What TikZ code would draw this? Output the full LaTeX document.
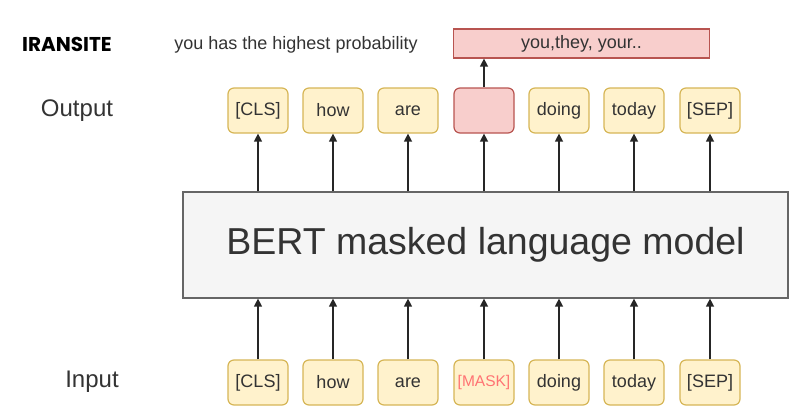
\documentclass[tikz,border=0pt]{standalone}
\usepackage{fontspec}
\setmainfont{Liberation Sans}
\newfontfamily\brandfont{Poppins}
\usetikzlibrary{arrows.meta}
\definecolor{tokfill}{HTML}{FFF2CC}
\definecolor{tokdraw}{HTML}{D6B656}
\definecolor{pinkfill}{HTML}{F8CECC}
\definecolor{pinkdraw}{HTML}{B85450}
\definecolor{bertfill}{HTML}{F5F5F5}
\definecolor{bertdraw}{HTML}{666666}
\definecolor{txt}{HTML}{333333}
\definecolor{masktxt}{HTML}{FF7373}
\begin{document}
\begin{tikzpicture}[x=1pt,y=-1pt,
  tok/.style={draw=tokdraw, fill=tokfill, rounded corners=6pt, minimum width=60pt, minimum height=45pt, line width=1.2pt, text=txt, font=\fontsize{18}{20}\selectfont, inner sep=0pt},
  pinktok/.style={tok, draw=pinkdraw, fill=pinkfill},
  arr/.style={line width=1.3pt, draw=black!85, -{Triangle[width=8pt,length=8pt]}},
  lbl/.style={text=txt, font=\fontsize{24}{26}\selectfont, inner sep=0pt}
]
\useasboundingbox (0,0) rectangle (793,410);
% top line
\node[font=\brandfont\bfseries\fontsize{20}{22}\selectfont, text=black, inner sep=0pt] (brand) at (67,44) {IRANSITE};
\node[text=txt, font=\fontsize{18}{20}\selectfont, inner sep=0pt] (note) at (296,45) {you has the highest probability};
\node[draw=pinkdraw, fill=pinkfill, line width=1.2pt, minimum width=256pt, minimum height=29pt, inner sep=0pt, text=txt, font=\fontsize{18}{20}\selectfont] (cand) at (581.5,43.5) {you,they, your..};
% labels
\node[lbl] (outlbl) at (77,111) {Output};
\node[lbl] (inlbl) at (92,382) {Input};
% BERT box
\node[draw=bertdraw, fill=bertfill, line width=1.2pt, minimum width=605pt, minimum height=106pt, inner sep=0pt, text=txt, font=\fontsize{37.5}{40}\selectfont] (bert) at (485.5,245) {BERT masked language model};
% output tokens
\node[tok] (o1) at (258,110.5) {[CLS]};
\node[tok] (o2) at (333,110.5) {how};
\node[tok] (o3) at (408,110.5) {are};
\node[pinktok] (o4) at (484,110.5) {};
\node[tok] (o5) at (559,110.5) {doing};
\node[tok] (o6) at (634,110.5) {today};
\node[tok] (o7) at (710,110.5) {[SEP]};
% input tokens
\node[tok] (i1) at (258,382.5) {[CLS]};
\node[tok] (i2) at (333,382.5) {how};
\node[tok] (i3) at (408,382.5) {are};
\node[tok, text=masktxt, font=\fontsize{15.5}{18}\selectfont] (i4) at (484,382.5) {[MASK]};
\node[tok] (i5) at (559,382.5) {doing};
\node[tok] (i6) at (634,382.5) {today};
\node[tok] (i7) at (710,382.5) {[SEP]};
% arrows
\foreach \k in {1,...,7}{
  \draw[arr] (i\k.north) -- (i\k.north |- bert.south);
  \draw[arr] (o\k.south |- bert.north) -- (o\k.south);
}
\draw[arr] (o4.north) -- (o4.north |- cand.south);
\end{tikzpicture}
\end{document}
